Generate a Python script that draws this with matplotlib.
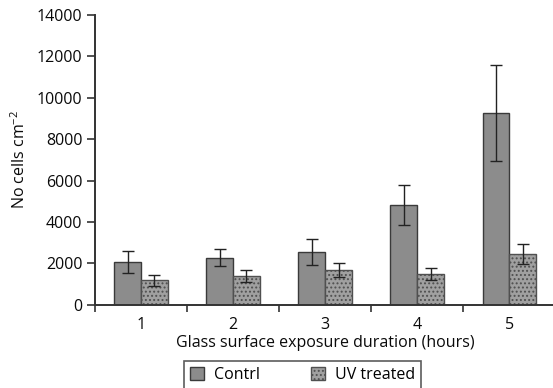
import matplotlib
matplotlib.use("Agg")
import matplotlib.pyplot as plt
import matplotlib.ticker as mticker
import numpy as np

plt.rcParams["font.family"] = ["Open Sans", "DejaVu Sans"]
plt.rcParams["mathtext.fontset"] = "custom"
plt.rcParams["mathtext.rm"] = "Open Sans"
plt.rcParams["mathtext.it"] = "Open Sans"
plt.rcParams["hatch.linewidth"] = 0.9

# data
hours = ["1", "2", "3", "4", "5"]
control = [2070, 2280, 2550, 4820, 9250]
control_err = [540, 420, 630, 950, 2320]
uv = [1180, 1390, 1670, 1490, 2450]
uv_err = [260, 270, 350, 310, 480]

_AXIS = "#333333"
_TEXT = "#0a0a0a"
_CTRL = "#8c8c8c"
_UV = "#a0a0a0"

fig = plt.figure(figsize=(5.53, 3.88), dpi=100)
ax = fig.add_axes([0.172, 0.2144, 0.832, 0.747])

x = np.arange(1, len(hours) + 1)
w = 0.29
err_style = dict(ecolor="#222222", elinewidth=1.0, capsize=4, capthick=1.0)
ax.bar(x - w / 2, control, w, yerr=control_err, color=_CTRL,
       edgecolor="#3a3a3a", linewidth=1.0, label="Contrl", error_kw=err_style)
ax.bar(x + w / 2, uv, w, yerr=uv_err, color=_UV, hatch="....",
       edgecolor="#505050", linewidth=1.0, label="UV treated", error_kw=err_style)

ax.set_xlim(0.5, len(hours) + 0.5)
ax.set_ylim(0, 14000)
ax.yaxis.set_major_locator(mticker.MultipleLocator(2000))

# ticks between groups, labels at group centres
ax.xaxis.set_major_locator(mticker.FixedLocator(np.arange(0.5, len(hours) + 1, 1.0)))
ax.xaxis.set_major_formatter(mticker.NullFormatter())
ax.xaxis.set_minor_locator(mticker.FixedLocator(x))
ax.xaxis.set_minor_formatter(mticker.FixedFormatter(hours))
ax.tick_params(axis="x", which="major", direction="out", length=5, width=1.2,
               color=_AXIS)
ax.tick_params(axis="x", which="minor", length=0, labelsize=11.5, pad=9,
               labelcolor=_TEXT)
ax.tick_params(axis="y", direction="out", length=6, width=1.2, color=_AXIS,
               labelsize=11.5, pad=3, labelcolor=_TEXT)
for lbl in ax.get_yticklabels() + ax.get_xticklabels(minor=True):
    lbl.set_fontweight("medium")

for side in ("top", "right"):
    ax.spines[side].set_visible(False)
for side in ("left", "bottom"):
    ax.spines[side].set_color(_AXIS)
    ax.spines[side].set_linewidth(1.4)
ax.spines["bottom"].set_clip_on(False)

ax.set_xlabel("Glass surface exposure duration (hours)", fontsize=11.5,
              color=_TEXT, labelpad=1, fontweight="medium")
ax.set_ylabel("No cells cm$^{-2}$", fontsize=11.5, color=_TEXT, labelpad=6,
              fontweight="medium")

leg = fig.legend(loc="center", bbox_to_anchor=(0.547, 0.0335),
                 ncol=2, frameon=True, fancybox=False, fontsize=11.5,
                 handlelength=0.9, handleheight=0.9, columnspacing=3.2,
                 handletextpad=0.6, borderpad=0.35, borderaxespad=0)
leg.get_frame().set_edgecolor("#333333")
leg.get_frame().set_linewidth(1.2)

fig.savefig("out.png", dpi=100)
